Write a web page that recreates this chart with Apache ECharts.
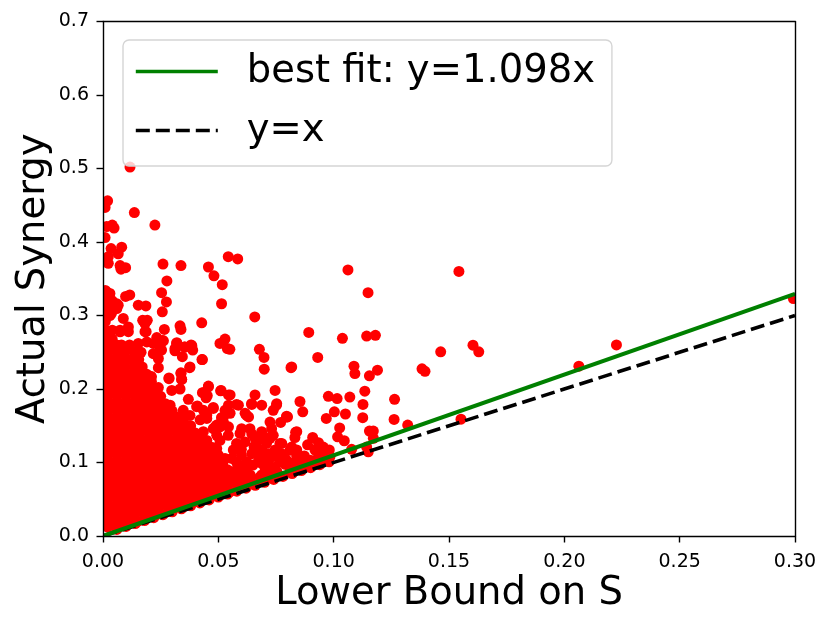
<!DOCTYPE html>
<html><head><meta charset="utf-8">
<style>html,body{margin:0;padding:0;background:#fff}#c{width:830px;height:628px}</style>
<script src="https://cdn.jsdelivr.net/npm/echarts@6/dist/echarts.min.js"></script>
</head><body><div id="c"></div>
<script>
const fitLine = [[0, 0], [0.3, 0.3294]];
const identityLine = [[0, 0], [0.3, 0.3]];

const upperPoints = [[.0117,.502],[.002,.456],[.0009,.447],[.0136,.440],[.0225,.423],[.004,.423],[.0048,.419],[.0016,.421],[.0009,.406],[.0081,.393],[.0035,.391],[.0066,.384],[.0023,.380],[.0023,.371],[.0074,.368],[.0098,.365],[.0078,.363],[.0543,.380],[.0584,.377],[.026,.370],[.0338,.368],[.0457,.366],[.0481,.354],[.0277,.347],[.0517,.342],[.0254,.331],[.0116,.328],[.0098,.326],[.0275,.3185],[.0514,.316],[.0016,.332],[.0016,.325],[.003,.3185],[.0066,.314],[.0153,.314],[.0186,.313],[.0257,.305],[.0658,.298],[.0428,.290],[.0088,.296],[.0172,.2935],[.0192,.2935],[.011,.2845],[.0074,.28],[.011,.278],[.0182,.289],[.0266,.281],[.0334,.286],[.0338,.281],[.0182,.278],[.0233,.27],[.0262,.2655],[.0529,.268],[.0507,.262],[.032,.263],[.0355,.257],[.0385,.259],[.0153,.262],[.0059,.26],[.0103,.255],[.019,.264],[.0247,.255],[.0312,.255],[.001,.334],[.003,.33],[.006,.316],[.006,.3095],[.0037,.303],[.003,.2755],[.0074,.2778],[.001,.292],[.001,.270],[.004,.268]];
const shoulderPoints = [[.0187,.278],[.0539,.255],[.0218,.262],[.0258,.266],[.0319,.262],[.0382,.26],[.0353,.257],[.0312,.252],[.0344,.244],[.0389,.253],[.0429,.24],[.0254,.253],[.0240,.2415],[.0218,.248],[.0377,.23],[.024,.229],[.021,.2166],[.0286,.215],[.0338,.222],[.0341,.213],[.024,.202],[.0298,.198],[.0334,.2],[.0457,.203],[.0435,.195],[.0452,.191],[.051,.1975],[.0544,.192],[.0370,.186],[.0409,.177],[.0478,.1735],[.0435,.171],[.0529,.171],[.0291,.178],[.0283,.169],[.0348,.171],[.0377,.164],[.0450,.160],[.0515,.161],[.0544,.178],[.0507,.1486],[.0421,.158],[.0478,.146],[.0370,.1486],[.0319,.162],[.0254,.167],[.0225,.16],[.0276,.144],[.0363,.14],[.0435,.142],[.0493,.137],[.0544,.1486]];
const lowerPoints = [[.0478,.175],[.0406,.176],[.0587,.178],[.0644,.180],[.0688,.178],[.0752,.178],[.0738,.171],[.0551,.167],[.0522,.162],[.0616,.167],[.0631,.162],[.0796,.163],[.077,.1545],[.0724,.155],[.045,.1645],[.0486,.1486],[.0522,.155],[.0601,.146],[.0637,.146],[.0594,.1395],[.0688,.142],[.0731,.146],[.0724,.133],[.0840,.142],[.0543,.137],[.0507,.13],[.0616,.128],[.0667,.128],[.0709,.126],[.0767,.126],[.0811,.117],[.0746,.117],[.0688,.117],[.0579,.126],[.0594,.119],[.0645,.112],[.0738,.108],[.0789,.1056],[.084,.108],[.0818,.099],[.0767,.101],[.0709,.103],[.0681,.1056],[.0623,.101],[.0565,.117],[.0558,.1056],[.0529,.1056],[.0464,.1214],[.0435,.1124],[.0493,.119],[.0507,.103],[.0464,.0965],[.0421,.092],[.0384,.126],[.0594,.092],[.065,.0965],[.0703,.092],[.0754,.0875],[.0811,.092],[.0847,.099],[.0558,.0875],[.0507,.085],[.0638,.083],[.0688,.083],[.0724,.085],[.0746,.0935],[.079,.0975],[.069,.0985],[.062,.092],[.058,.1],[.06,.11],[.0665,.112],[.072,.112],[.0775,.112],[.084,.117],[.088,.1],[.092,.103],[.0655,.1215],[.06,.118],[.07,.135],[.0645,.139]];
const middlePoints = [[.0550,.254],[.0678,.254],[.0698,.243],[.0699,.227],[.0815,.229],[.0431,.240],[.0376,.229],[.0338,.221],[.0286,.214],[.0208,.217],[.0341,.213],[.0512,.198],[.0551,.192],[.0659,.192],[.0746,.198],[.0457,.204],[.0431,.195],[.0447,.188],[.0579,.179],[.0645,.179],[.0753,.180],[.0623,.164],[.0796,.162],[.0514,.161],[.0493,.151],[.0659,.133],[.0738,.137],[.0775,.126],[.0818,.121],[.0746,.110],[.0673,.101],[.0796,.103],[.0717,.099],[.0587,.090]];
// points hugging the y=x line
const edgePoints = [[.006,.009],[.010,.013],[.014,.017],[.018,.021],[.022,.025],[.026,.029],[.030,.033],[.034,.037],[.038,.041],[.042,.045],[.046,.049],[.050,.053],[.054,.057],[.058,.061],[.062,.065],[.066,.069],[.070,.073],[.074,.077],[.078,.081],[.082,.085],[.086,.089],[.090,.093],[.094,.097],[.098,.101]];
// isolated points on the right
const rightPoints = [[.1062,.362],[.1543,.360],[.1149,.331],[.0892,.277],[.1038,.269],[.1143,.272],[.1181,.273],[.1464,.2506],[.1604,.2596],[.1629,.2506],[.0931,.243],[.0818,.230],[.1088,.231],[.1092,.221],[.1155,.218],[.1190,.2256],[.1383,.2275],[.1396,.224],[.1135,.197],[.0977,.190],[.1015,.187],[.1070,.189],[.1264,.186],[.0854,.183],[.0866,.169],[.1127,.179],[.080,.162],[.1003,.169],[.1051,.166],[.0968,.160],[.1126,.161],[.1262,.1586],[.1321,.151],[.1552,.159],[.1026,.147],[.1155,.1427],[.1172,.1427],[.1017,.135],[.1046,.1296],[.1172,.133],[.0835,.141],[.0832,.134],[.0909,.134],[.0887,.124],[.0934,.127],[.0955,.121],[.0981,.117],[.0919,.117],[.0818,.117],[.0873,.109],[.0847,.1056],[.0898,.103],[.1078,.118],[.0941,.110],[.0963,.111],[.0984,.108],[.1150,.1146],[.1143,.121],[.2063,.231],[.2226,.260],[.2993,.323]];
// the solid mass near the y axis, estimated band by band
const denseBandY = [.33,.32,.31,.30,.28,.26,.25,.24,.23,.22,.21,.20,.19,.18,.17,.16,.15,.14,.13,.12,.11,.10,.09,.08,.07,.06,.05,.04,.03,.02,.012];
const denseBandX = [
 [.001,.002],[.001,.004],[.001,.0035],[.001,.003],[.001,.004],
 [.001,.0045,.008,.0115],[.002,.006,.0095,.0135,.0165],[.001,.0045,.008,.012,.0155],
 [.002,.006,.0095,.0135,.017],[.001,.0045,.008,.012,.0155,.019],[.002,.006,.0095,.0135,.0175,.021],
 [.001,.0045,.008,.012,.016,.0195,.023],[.002,.006,.010,.014,.018,.0215,.025],
 [.001,.0045,.008,.012,.016,.020,.024,.027],[.002,.006,.010,.014,.018,.022,.026,.030],
 [.001,.0045,.008,.012,.016,.020,.024,.028,.032,.035],[.002,.006,.010,.014,.018,.022,.026,.030,.034,.038],
 [.001,.0045,.008,.012,.016,.020,.024,.028,.032,.036,.040],[.002,.006,.010,.014,.018,.022,.026,.030,.034,.038,.042,.045],
 [.001,.0045,.008,.012,.016,.020,.024,.028,.032,.036,.040,.044,.048],[.002,.006,.010,.014,.018,.022,.026,.030,.034,.038,.042,.046,.050],
 [.001,.0045,.008,.012,.016,.020,.024,.028,.032,.036,.040,.044,.048,.052],[.002,.006,.010,.014,.018,.022,.026,.030,.034,.038,.042,.046,.050,.054,.058],
 [.001,.0045,.008,.012,.016,.020,.024,.028,.032,.036,.040,.044,.048,.052,.056,.060,.064,.068,.073],[.002,.006,.010,.014,.018,.022,.026,.030,.034,.038,.042,.046,.050,.054,.058,.062],
 [.001,.0045,.008,.012,.016,.020,.024,.028,.032,.036,.040,.044,.048,.052,.055],[.002,.006,.010,.014,.018,.022,.026,.030,.034,.038,.042,.045],
 [.001,.0045,.008,.012,.016,.020,.024,.028,.032,.035],[.002,.006,.010,.014,.018,.022,.025],
 [.001,.0045,.008,.012,.015],[.002,.006]
];
const densePoints = [];
denseBandY.forEach((y, i) => denseBandX[i].forEach(x => densePoints.push([x, y])));

const chart = echarts.init(document.getElementById('c'), null, {renderer: 'canvas', width: 830, height: 628});
const FONT = 'DejaVu Sans';
const line = {color: '#000', width: 1.4};
chart.setOption({
  animation: false,
  backgroundColor: '#fff',
  grid: {left: 103, top: 21.5, width: 692, height: 514.5, show: false},
  xAxis: [{
    type: 'value', min: 0, max: 0.3, interval: 0.05, position: 'bottom', z: 20,
    name: 'Lower Bound on S', nameLocation: 'middle', nameGap: 38, nameMoveOverlap: false,
    nameTextStyle: {fontFamily: FONT, fontSize: 38.5, color: '#000'},
    axisLine: {show: true, lineStyle: line}, axisTick: {show: true, length: 6.5, lineStyle: line},
    axisLabel: {color: '#000', fontFamily: FONT, fontSize: 19, margin: 17, formatter: v => v.toFixed(2), hideOverlap: false},
    splitLine: {show: false}
  }, {
    type: 'value', min: 0, max: 0.3, position: 'top', z: 20,
    axisLine: {show: true, onZero: false, lineStyle: line}, axisTick: {show: false}, axisLabel: {show: false}, splitLine: {show: false}
  }],
  yAxis: [{
    type: 'value', min: 0, max: 0.7, interval: 0.1, position: 'left', z: 20,
    name: 'Actual Synergy', nameLocation: 'middle', nameGap: 50, nameRotate: 90, nameMoveOverlap: false,
    nameTextStyle: {fontFamily: FONT, fontSize: 38.5, color: '#000'},
    axisLine: {show: true, lineStyle: line}, axisTick: {show: true, length: 6.5, lineStyle: line},
    axisLabel: {color: '#000', fontFamily: FONT, fontSize: 19, margin: 14, formatter: v => v.toFixed(1)},
    splitLine: {show: false}
  }, {
    type: 'value', min: 0, max: 0.7, position: 'right', z: 20,
    axisLine: {show: true, onZero: false, lineStyle: line}, axisTick: {show: false}, axisLabel: {show: false}, splitLine: {show: false}
  }],
  legend: {
    show: true, z: 30, left: 123, top: 40, orient: 'vertical',
    data: ['best fit: y=1.098x', 'y=x'],
    itemWidth: 82, itemHeight: 4, itemGap: 20,
    padding: [12, 17, 16, 11],
    backgroundColor: 'rgba(255,255,255,0.8)', borderColor: '#d5d5d5', borderWidth: 1.4, borderRadius: 6,
    itemStyle: {opacity: 0},
    lineStyle: {width: 3.6},
    textStyle: {fontFamily: FONT, fontSize: 38.5, color: '#000', padding: [0, 0, 0, 24]}
  },
  graphic: [
    {type: 'rect', z: 10, silent: true, shape: {x: 0, y: 0, width: 103, height: 628}, style: {fill: '#fff'}},
    {type: 'rect', z: 10, silent: true, shape: {x: 0, y: 536, width: 830, height: 92}, style: {fill: '#fff'}},
    {type: 'rect', z: 10, silent: true, shape: {x: 795, y: 0, width: 35, height: 628}, style: {fill: '#fff'}}
  ],
  series: [
    {type: 'scatter', name: 'points', symbol: 'circle', symbolSize: 11, clip: false, itemStyle: {color: '#ff0000', opacity: 1},
     data: densePoints.concat(upperPoints, shoulderPoints, lowerPoints, middlePoints, edgePoints, rightPoints)},
    {type: 'line', name: 'y=x', data: identityLine, symbol: 'none', lineStyle: {color: '#000', width: 3.6, type: [14, 6]}, itemStyle: {color: '#000'}},
    {type: 'line', name: 'best fit: y=1.098x', data: fitLine, symbol: 'none', lineStyle: {color: '#008000', width: 4}, itemStyle: {color: '#008000'}}
  ]
});
</script></body></html>
